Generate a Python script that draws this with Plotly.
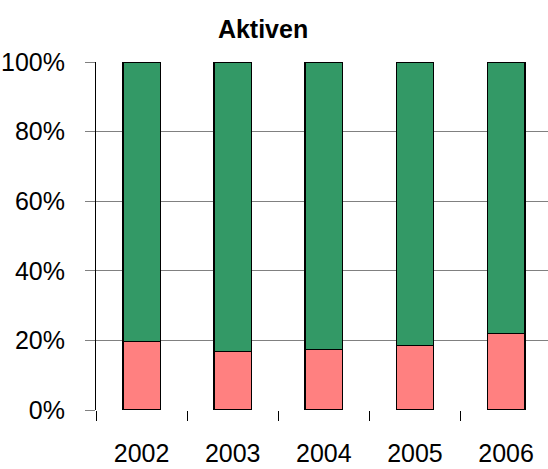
import plotly.graph_objects as go

years = ["2002", "2003", "2004", "2005", "2006"]
red_share = [0.197, 0.168, 0.174, 0.185, 0.220]
green_share = [1 - v for v in red_share]

FONT = "Liberation Sans Narrow, Arial Narrow, Liberation Sans, Arial, sans-serif"

fig = go.Figure()
fig.add_trace(go.Bar(
    x=years, y=red_share, marker=dict(color="#FF8080", line=dict(color="black", width=1.5)),
    width=0.41, showlegend=False,
))
fig.add_trace(go.Bar(
    x=years, y=green_share, marker=dict(color="#339966", line=dict(color="black", width=1.5)),
    width=0.41, showlegend=False,
))

fig.update_layout(
    barmode="stack",
    width=548, height=469,
    margin=dict(l=96, r=0, t=62, b=59),
    paper_bgcolor="white", plot_bgcolor="white",
    font=dict(family=FONT, size=25, color="black"),
    title=dict(text="<b>Aktiven</b>", x=0.48, xref="container", xanchor="center",
               y=0.937, yref="container", yanchor="middle",
               font=dict(family=FONT, size=25, color="black")),
    xaxis=dict(
        type="category", range=[-0.5, 4.46], tickson="boundaries",
        ticks="outside", ticklen=10, tickcolor="black", tickwidth=1,
        showline=False, showgrid=False, zeroline=False,
        ticklabelstandoff=26, automargin=False,
    ),
    yaxis=dict(
        range=[0, 1], dtick=0.2, tickformat=".0%",
        ticks="outside", ticklen=10, tickcolor="#808080", tickwidth=1,
        showgrid=True, gridcolor="#808080", gridwidth=1,
        zeroline=False, showline=True, linecolor="black", linewidth=1,
        ticklabelstandoff=15, automargin=False,
    ),
)

fig.write_html("out.html")
